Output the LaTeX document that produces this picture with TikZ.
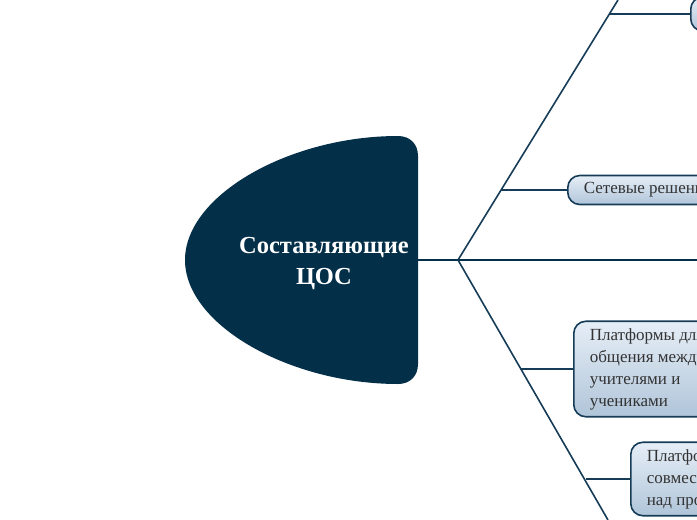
\documentclass[tikz,border=0pt]{standalone}
\usepackage{fontspec}
\setmainfont{Liberation Serif}
\definecolor{navy}{HTML}{042F48}
\definecolor{edge}{HTML}{163C57}
\definecolor{ltop}{HTML}{E6EEF7}
\definecolor{lbot}{HTML}{B0C5D9}
\begin{document}
\begin{tikzpicture}[x=1pt,y=-1pt,
  topicbox/.style={draw=edge,line width=1.6pt,rounded corners=12pt,
    top color=ltop,bottom color=lbot,anchor=west,align=left,
    font=\fontsize{17}{22}\selectfont,inner xsep=16pt,inner ysep=6pt,text=black!80},
  branch/.style={draw=edge,line width=1.6pt},
  trunk/.style={draw=navy,line width=2.6pt}]
\useasboundingbox (0,0) rectangle (697,520);
\clip (0,0) rectangle (697,520);
% central shape
\fill[navy] (398,136) .. controls (290,136) and (185,195) .. (185,260)
  .. controls (185,325) and (290,384) .. (398,384)
  .. controls (410,384) and (418,376) .. (418,364)
  -- (418,156) .. controls (418,144) and (410,136) .. (398,136) -- cycle;
\node[text=white,font=\fontsize{24.5}{31}\selectfont\bfseries,align=center] (central) at (324,263) {Составляющие\\ЦОС};
\coordinate (ce) at (418,260);
\coordinate (hub) at (458,260);
\coordinate (topend) at (618,0);
\coordinate (botend) at (608,520);
\coordinate (rightend) at (700,260);
\coordinate (j1) at (609,14);
\coordinate (j2) at (501,190);
\coordinate (j3) at (521,369);
\coordinate (j4) at (586,479);
% nodes
\node[topicbox,minimum height=34pt,text width=150pt] (n1) at (690,14) {};
\node[topicbox,minimum height=29pt,inner ysep=3pt] (n2) at (567,190) {Сетевые решения};
\node[topicbox,inner ysep=7pt] (n3) at (573,369) {Платформы для\\общения между\\учителями и\\учениками};
\node[topicbox,inner ysep=7pt] (n4) at (630,479) {Платформы для\\совместной работы\\над проектами};
% connectors
\draw[trunk] (ce) -- (hub) -- (rightend);
\draw[branch] (hub) -- (topend);
\draw[branch] (hub) -- (botend);
\draw[branch] (j1) -- (n1.west);
\draw[branch] (j2) -- (n2.west);
\draw[branch] (j3) -- (n3.west);
\draw[branch] (j4) -- (n4.west);
\end{tikzpicture}
\end{document}
